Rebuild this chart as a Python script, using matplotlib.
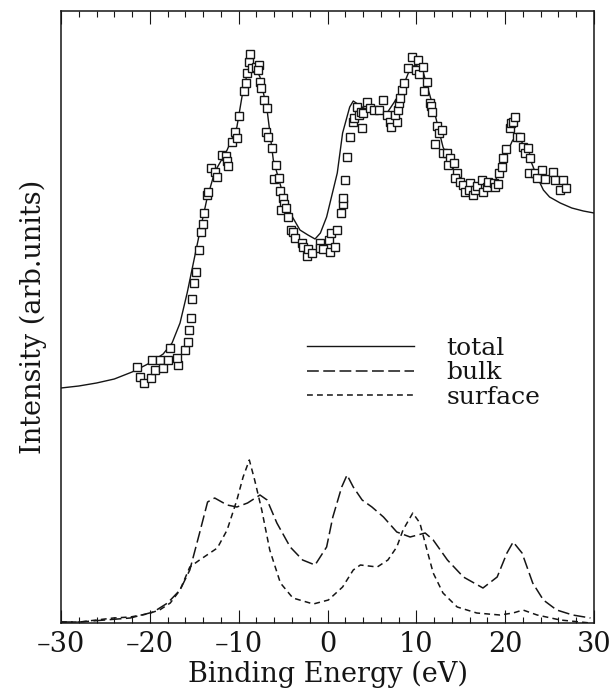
import matplotlib
matplotlib.use("Agg")
import matplotlib.pyplot as plt
from matplotlib.ticker import MultipleLocator, FuncFormatter

plt.rcParams['font.family'] = ['DejaVu Serif']
plt.rcParams['lines.scale_dashes'] = False

# total fit curve (binding energy in eV, intensity in arb. units)
total_e = [-30.0, -28.0, -26.0, -24.0, -22.0, -20.0, -18.5, -17.5, -16.6, -15.8,
           -14.4, -13.6, -12.7, -11.3, -10.2,
           -9.5, -9.0, -8.6, -8.1, -7.6, -6.8, -6.1, -4.6, -3.1, -2.2, -1.4, -0.8,
           -0.1, 1.1, 1.7, 2.5, 2.9, 3.4, 4.4, 6.7, 8.2, 9.1, 9.5, 9.9, 10.3, 10.8,
           11.9, 13.0, 14.6, 16.0, 17.2, 18.6, 20.2, 20.8, 21.3, 21.8, 22.4, 23.6,
           24.3, 25.0, 26.2, 27.5, 28.8, 30.0]
total_i = [235, 237, 240, 244, 251, 260, 269, 280, 300, 330,
           390, 423, 451, 473, 496,
           533, 550, 560, 555, 546, 513, 463, 416, 393, 388, 384, 390,
           406, 450, 490, 516, 522, 519, 513, 510, 530, 550, 556, 558, 556, 550,
           516, 476, 446, 431, 430, 436, 470, 482, 488, 482, 473, 446,
           433, 426, 420, 415, 412, 410]

# bulk component
bulk_e = [-30.0, -27.9, -22.2, -19.6, -18.0, -16.6, -15.5, -14.4, -13.5, -12.7,
          -11.3, -10.2, -9.0, -7.6, -6.8, -5.7, -4.2, -2.8, -1.4, -0.1, 0.6, 1.6,
          2.2, 2.9, 3.9, 5.0, 6.3, 7.8, 9.3, 11.0, 11.9, 13.5, 15.3, 17.5, 19.1,
          20.2, 20.9, 21.9, 23.1, 24.3, 25.8, 27.6, 29.6]
bulk_i = [1, 1, 5, 11, 20, 33, 53, 90, 121, 125,
          118, 116, 120, 128, 123, 100, 76, 63, 58, 76, 106, 136,
          148, 136, 123, 116, 106, 91, 86, 90, 83, 63, 46, 35, 46,
          70, 81, 70, 40, 23, 13, 8, 5]

# surface component
surf_e = [-30.0, -27.9, -24.1, -22.2, -20.3, -18.9, -17.7, -16.6, -15.5, -14.4,
          -12.4, -11.3, -10.2, -9.5, -8.8, -8.2, -7.4, -6.5, -5.3, -3.9, -1.6, 0.1,
          1.7, 2.9, 3.7, 5.6, 6.8, 7.8, 8.5, 9.6, 10.4, 11.2, 11.9, 13.0, 14.6,
          16.8, 19.4, 20.9, 22.0, 23.6, 26.2, 29.6]
surf_i = [1, 1, 5, 6, 9, 13, 20, 33, 56, 63,
          75, 93, 123, 146, 163, 143, 113, 73, 40, 25, 19, 23,
          36, 53, 58, 56, 63, 76, 93, 110, 100, 73, 50, 30, 16,
          10, 8, 10, 13, 8, 3, 0]

# measured spectrum (open squares)
meas_e = [-21.5, -21.1, -20.7, -19.9, -19.8, -19.4, -18.9, -18.5, -17.9, -17.7,
          -16.8, -16.9, -16.0, -15.7, -15.6, -15.4, -15.2, -15.0, -14.8, -14.5,
          -14.2, -14.0, -13.9, -13.6, -13.4, -13.1, -12.7, -12.4, -11.9, -11.4,
          -11.3, -11.2, -10.7, -10.4, -10.2, -10.0, -9.4, -9.2, -9.1, -8.8,
          -8.7, -8.5, -8.0, -7.7, -7.8, -7.6, -7.5, -7.1, -6.8, -6.9,
          -6.7, -6.3, -5.8, -6.0, -5.5, -5.4, -5.0, -4.9, -5.2, -4.7,
          -4.4, -4.1, -3.9, -3.7, -2.9, -2.8, -2.3, -2.2, -1.8, -0.9,
          -0.8, -0.5, 0.2, 0.3, 0.4, 0.8, 1.1, 1.5, 1.7, 1.8,
          2.0, 2.2, 2.5, 3.9, 2.9, 3.0, 3.3, 3.5, 3.8, 4.0,
          4.4, 4.8, 5.2, 5.8, 6.3, 6.7, 7.0, 7.1, 7.8, 7.6,
          7.9, 8.1, 8.2, 8.4, 8.6, 9.1, 9.5, 10.0, 10.2, 10.3,
          10.7, 11.2, 10.9, 11.5, 11.7, 11.8, 12.3, 12.5, 12.1, 12.9,
          13.0, 13.4, 13.8, 13.6, 14.2, 14.6, 14.4, 14.9, 15.3, 15.5,
          16.0, 15.9, 16.4, 16.6, 16.8, 17.4, 17.5, 17.9, 18.1, 18.7,
          18.9, 19.2, 19.3, 19.6, 19.8, 20.1, 20.5, 20.7, 20.9, 21.1,
          21.3, 21.7, 22.0, 22.2, 22.6, 22.8, 22.7, 23.4, 23.6, 24.2,
          24.5, 25.4, 25.6, 26.2, 26.5, 26.9]
meas_i = [256, 246, 240, 245, 263, 253, 263, 255, 263, 275,
          258, 265, 273, 281, 293, 305, 324, 340, 351, 373,
          391, 399, 410, 428, 431, 455, 451, 446, 468, 467,
          462, 457, 481, 491, 485, 507, 532, 540, 550, 561,
          569, 555, 556, 558, 553, 541, 535, 523, 515, 491,
          486, 475, 458, 444, 445, 432, 425, 419, 413, 415,
          406, 393, 391, 385, 380, 376, 367, 374, 370, 380,
          375, 374, 383, 371, 390, 376, 393, 410, 419, 425,
          443, 466, 486, 495, 501, 505, 516, 508, 511, 510,
          521, 515, 513, 513, 523, 508, 501, 496, 501, 508,
          513, 520, 525, 533, 540, 555, 566, 553, 563, 549,
          556, 541, 532, 520, 517, 511, 497, 490, 479, 493,
          470, 470, 465, 458, 460, 450, 445, 441, 438, 431,
          440, 433, 428, 433, 437, 443, 431, 436, 441, 440,
          436, 439, 450, 456, 465, 474, 495, 500, 501, 506,
          486, 486, 476, 470, 475, 465, 450, 450, 445, 453,
          444, 451, 443, 433, 443, 435]

ink = '#151515'

fig = plt.figure(figsize=(6.10, 6.91), dpi=100)
ax = fig.add_axes([61 / 610, 1 - 623 / 691, 533 / 610, 612 / 691])

l_total, = ax.plot(total_e, total_i, color=ink, lw=1.0, label='total')
l_bulk, = ax.plot(bulk_e, bulk_i, color=ink, lw=1.1, dashes=(8.5, 3.2), label='bulk')
l_surf, = ax.plot(surf_e, surf_i, color=ink, lw=1.1, dashes=(4.2, 3.0), label='surface')
ax.plot(meas_e, meas_i, ls='none', marker='s', ms=5.3, mfc='white', mec=ink, mew=1.0, zorder=3)

ax.set_xlim(-30, 30)
ax.set_ylim(0, 612)
ax.xaxis.set_major_locator(MultipleLocator(10))
ax.xaxis.set_minor_locator(MultipleLocator(2))
ax.xaxis.set_major_formatter(FuncFormatter(lambda v, p: ('%d' % v).replace('-', '\u2013')))
ax.tick_params(axis='x', which='both', direction='in', top=True, bottom=True,
               labelsize=19.5, pad=6, width=0.8, color=ink, labelcolor=ink)
ax.tick_params(axis='x', which='major', length=9.5)
ax.tick_params(axis='x', which='minor', length=4.2)
ax.tick_params(axis='y', left=False, right=False, labelleft=False)
for s in ax.spines.values():
    s.set_linewidth(1.1)
    s.set_color(ink)

ax.set_xlabel('Binding Energy (eV)', fontsize=19.5, color=ink, labelpad=2)
ax.set_ylabel('Intensity (arb.units)', fontsize=19.5, color=ink, labelpad=10)

ax.legend(handles=[l_total, l_bulk, l_surf], loc='upper left', bbox_to_anchor=(0.461, 0.468),
          frameon=False, fontsize=18, handlelength=4.3, handletextpad=1.3,
          labelspacing=0.07, borderpad=0, borderaxespad=0, labelcolor=ink)

fig.savefig('out.png', dpi=100)
